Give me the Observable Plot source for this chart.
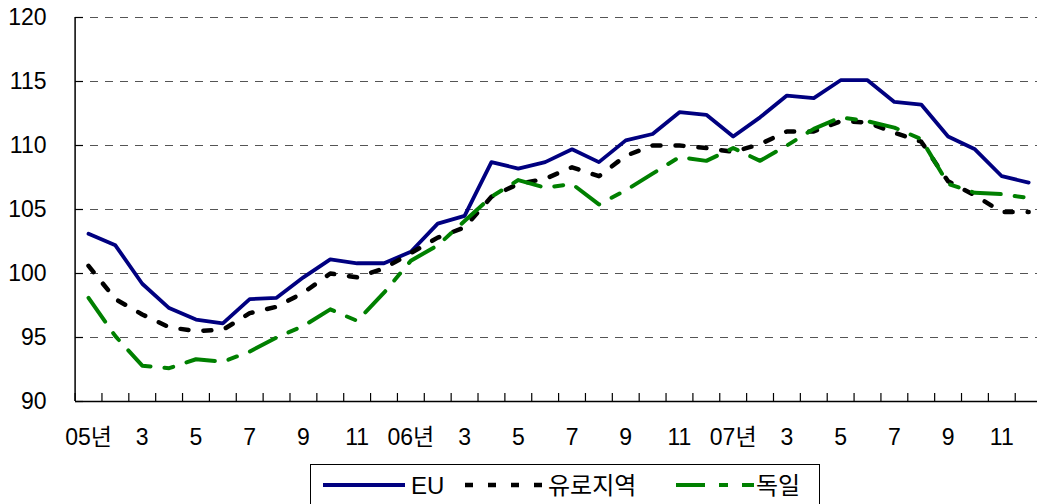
<!DOCTYPE html>
<html>
<head>
<meta charset="utf-8">
<script src="https://cdn.jsdelivr.net/npm/d3@7"></script>
<script src="https://cdn.jsdelivr.net/npm/@observablehq/plot@0.6"></script>
<style>
  html, body { margin: 0; padding: 0; background: #fff; overflow: hidden; }
  #chart { width: 1037px; height: 504px; position: relative; }
  #legend { display: block; margin-left: 310px; }
</style>
</head>
<body>
<div id="chart"></div>
<script>
// Monthly index, Jan 2005 – Dec 2007
const eu = [103.1, 102.2, 99.2, 97.3, 96.4, 96.1, 98.0, 98.1, 99.7, 101.1, 100.8, 100.8,
            101.7, 103.9, 104.5, 108.7, 108.2, 108.7, 109.7, 108.7, 110.4, 110.9, 112.6, 112.4,
            110.7, 112.2, 113.9, 113.7, 115.1, 115.1, 113.4, 113.2, 110.7, 109.7, 107.6, 107.1];
const euroArea = [100.6, 98.0, 96.8, 95.8, 95.5, 95.6, 96.9, 97.4, 98.5, 100.0, 99.7, 100.4,
                  101.6, 102.8, 103.6, 106.0, 107.0, 107.4, 108.3, 107.6, 109.2, 110.0, 110.0, 109.8,
                  109.5, 110.1, 111.1, 111.1, 111.9, 111.8, 111.0, 110.3, 107.2, 106.1, 104.8, 104.8];
const germany = [98.1, 95.1, 92.8, 92.6, 93.3, 93.1, 93.9, 95.0, 95.9, 97.2, 96.3, 98.5,
                 101.0, 102.2, 104.1, 106.0, 107.3, 106.7, 107.0, 105.4, 106.5, 107.8, 109.1, 108.8,
                 109.8, 108.8, 110.0, 111.3, 112.2, 111.9, 111.4, 110.5, 107.0, 106.3, 106.2, 105.9];
const tickLabels = ["05년", "3", "5", "7", "9", "11", "06년", "3", "5", "7", "9", "11",
                    "07년", "3", "5", "7", "9", "11"];
const seriesNames = ["EU", "유로지역", "독일"];
const yTicks = [90, 95, 100, 105, 110, 115, 120];

const toRows = arr => arr.map((v, i) => ({i, v}));
const monthIdx = d3.range(eu.length);
const boundaries = d3.range(eu.length + 1).map(i => i - 0.5);
const labelTicks = monthIdx.filter(i => i % 2 === 0);

const W = 1037, H = 464, ML = 75, MT = 17, MB = 63;
const frameW = W - ML;

const plot = Plot.plot({
  width: W,
  height: H,
  marginLeft: ML,
  marginRight: 0,
  marginTop: MT,
  marginBottom: MB,
  style: {fontFamily: "'Liberation Sans', 'Noto Sans CJK KR', sans-serif", fontSize: "23px", background: "transparent", overflow: "visible", color: "#000"},
  x: {domain: [-0.5, eu.length - 0.5], range: [74.6, 1041.6], label: null},
  y: {domain: [90, 120], label: null},
  marks: [
    Plot.ruleY(yTicks.slice(1), {stroke: "#555", strokeWidth: 1.2, strokeDasharray: "8,7", insetLeft: 15}),
    Plot.tickY(yTicks, {stroke: "#000", strokeWidth: 1.2, insetRight: frameW - 8}),
    Plot.tickX(boundaries, {stroke: "#000", strokeWidth: 1.2, insetTop: (H - MT - MB) - 8}),
    Plot.ruleX([-0.5], {stroke: "#000", strokeWidth: 1.5}),
    Plot.ruleY([90], {stroke: "#000", strokeWidth: 1.5}),
    Plot.axisY({ticks: yTicks, tickSize: 0, tickPadding: 29, fontSize: 23, label: null}),
    Plot.axisX({ticks: labelTicks, tickSize: 0, tickPadding: 27, fontSize: 23, label: null,
                tickFormat: i => tickLabels[i / 2]}),
    Plot.line(toRows(eu), {x: "i", y: "v", stroke: "#000080", strokeWidth: 3.8, strokeLinejoin: "round"}),
    Plot.line(toRows(euroArea), {x: "i", y: "v", stroke: "#000", strokeWidth: 4.5, strokeDasharray: "8,15"}),
    Plot.line(toRows(germany), {x: "i", y: "v", stroke: "#008000", strokeWidth: 4, strokeDasharray: "29,14,9,14"})
  ]
});
document.getElementById("chart").appendChild(plot);

// Legend below the plot
const legend = d3.select("#chart").append("svg")
  .attr("id", "legend")
  .attr("width", 511).attr("height", 42)
  .style("font-family", "'Liberation Sans', 'Noto Sans CJK KR', sans-serif")
  .style("font-size", "24px");
legend.append("rect").attr("x", 0.5).attr("y", 0.5).attr("width", 509).attr("height", 48)
  .attr("fill", "#fff").attr("stroke", "#000").attr("stroke-width", 1);
const items = [
  {name: seriesNames[0], stroke: "#000080", w: 3.8, dash: null, x1: 13, x2: 95, tx: 101},
  {name: seriesNames[1], stroke: "#000", w: 4.5, dash: "8,15", x1: 155, x2: 235, tx: 238},
  {name: seriesNames[2], stroke: "#008000", w: 4, dash: "29,14,9,14", x1: 366, x2: 444, tx: 446}
];
for (const it of items) {
  legend.append("line").attr("x1", it.x1).attr("x2", it.x2).attr("y1", 21).attr("y2", 21)
    .attr("stroke", it.stroke).attr("stroke-width", it.w)
    .attr("stroke-dasharray", it.dash);
  legend.append("text").attr("x", it.tx).attr("y", 30).text(it.name);
}
</script>
</body>
</html>
